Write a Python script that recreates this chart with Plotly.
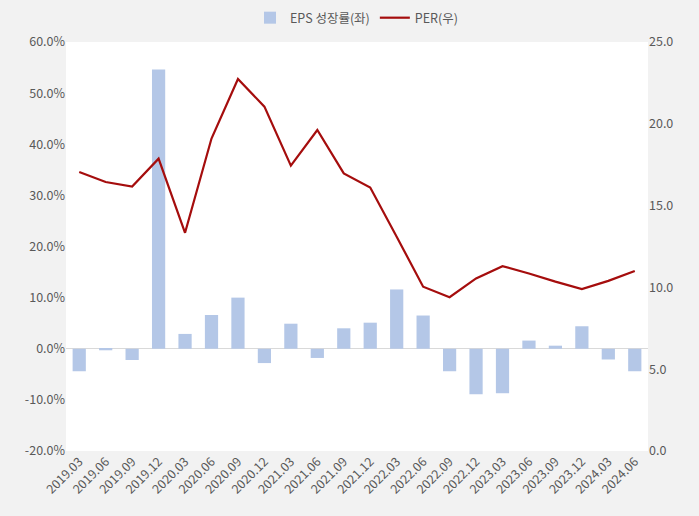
import plotly.graph_objects as go

categories = ["2019.03","2019.06","2019.09","2019.12","2020.03","2020.06","2020.09","2020.12",
              "2021.03","2021.06","2021.09","2021.12","2022.03","2022.06","2022.09","2022.12",
              "2023.03","2023.06","2023.09","2023.12","2024.03","2024.06"]
eps_growth = [-4.4, -0.3, -2.2, 54.6, 2.9, 6.6, 10.0, -2.8, 4.9, -1.8, 4.0, 5.1,
              11.6, 6.5, -4.4, -8.9, -8.7, 1.6, 0.6, 4.4, -2.1, -4.4]
per = [17.05, 16.44, 16.16, 17.87, 13.34, 19.1, 22.74, 21.05, 17.44, 19.62, 16.97, 16.1,
       13.1, 10.04, 9.4, 10.55, 11.3, 10.85, 10.35, 9.9, 10.4, 11.0]
left_ticks = [-20, -10, 0, 10, 20, 30, 40, 50, 60]
right_ticks = [0, 5, 10, 15, 20, 25]

font_fam = "Noto Sans CJK KR, Noto Sans, sans-serif"
tick_color = "#595959"

fig = go.Figure()
fig.add_trace(go.Bar(x=categories, y=eps_growth, name="EPS 성장률(좌)",
                     marker=dict(color="#b4c7e7", line=dict(width=0)), yaxis="y"))
fig.add_trace(go.Scatter(x=categories, y=per, name="PER(우)", mode="lines",
                         line=dict(color="#a50d0d", width=2.2), yaxis="y2"))

fig.update_layout(
    width=699, height=516,
    paper_bgcolor="#f2f2f2", plot_bgcolor="#ffffff",
    margin=dict(l=66, r=51, t=42, b=65),
    font=dict(family=font_fam, size=12.5, color=tick_color),
    bargap=0.5,
    showlegend=True,
    legend=dict(orientation="h", x=0.5, xanchor="center", y=0.965, yanchor="middle",
                yref="container", bgcolor="rgba(0,0,0,0)",
                font=dict(size=12.5, color=tick_color), itemwidth=30),
    xaxis=dict(tickangle=-45, showgrid=False, zeroline=False, showline=False,
               automargin=False,
               tickfont=dict(size=12.5, color=tick_color), ticks="", fixedrange=True),
    yaxis=dict(range=[-20, 60], tickvals=left_ticks,
               ticktext=[f"{v:.1f}%" for v in left_ticks], automargin=False,
               showgrid=False, zeroline=True, zerolinecolor="#d9d9d9", zerolinewidth=1,
               showline=False, ticks="", tickfont=dict(size=12.5, color=tick_color)),
    yaxis2=dict(range=[0, 25], tickvals=right_ticks,
                ticktext=[f"{v:.1f}" for v in right_ticks], automargin=False,
                overlaying="y", side="right", showgrid=False, zeroline=False,
                showline=False, ticks="", tickfont=dict(size=12.5, color=tick_color)),
)

fig.write_html(
    "out.html",
    config={"displayModeBar": False},
    post_script="document.body.style.margin='0';document.body.style.background='#f2f2f2';",
)
